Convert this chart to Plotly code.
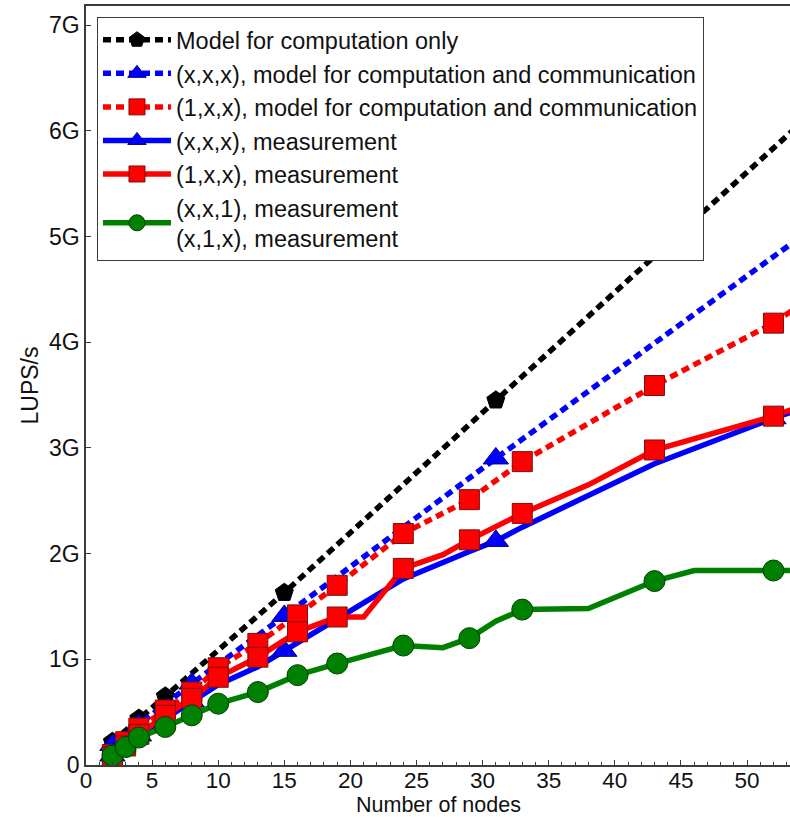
import plotly.graph_objects as go

# Throughput in GLUPS/s versus number of nodes
model_comp_n = [2, 4, 6, 15, 31, 64]
model_comp_v = [0.22, 0.44, 0.65, 1.63, 3.45, 7.20]

model_xxx_n = [2, 4, 8, 15, 31, 64]
model_xxx_v = [0.19, 0.38, 0.77, 1.41, 2.90, 5.90]

model_1xx_n = [2, 3, 4, 6, 8, 10, 13, 16, 19, 24, 29, 33, 43, 52, 64]
model_1xx_v = [0.10, 0.22, 0.35, 0.52, 0.69, 0.92, 1.15, 1.42, 1.70, 2.19, 2.51, 2.87, 3.59, 4.18, 5.20]

meas_xxx_n = [2, 4, 8, 10, 13, 15, 19, 24, 29, 31, 33, 38, 43, 52, 64]
meas_xxx_v = [0.09, 0.28, 0.60, 0.76, 0.93, 1.08, 1.38, 1.76, 2.02, 2.12, 2.25, 2.55, 2.85, 3.28, 3.80]
meas_xxx_marked = [2, 4, 8, 15, 31, 52]

meas_1xx_n = [2, 3, 4, 6, 8, 10, 13, 16, 19, 21, 24, 27, 29, 33, 38, 43, 52, 64]
meas_1xx_v = [0.08, 0.18, 0.29, 0.47, 0.63, 0.83, 1.02, 1.26, 1.40, 1.40, 1.86, 1.99, 2.13, 2.38, 2.65, 2.98, 3.30, 3.85]
meas_1xx_marked = [2, 3, 4, 6, 8, 10, 13, 16, 19, 24, 29, 33, 43, 52]

meas_xx1_n = [2, 3, 4, 6, 8, 10, 13, 16, 19, 24, 27, 29, 31, 33, 38, 43, 46, 52, 64]
meas_xx1_v = [0.09, 0.17, 0.26, 0.36, 0.47, 0.58, 0.69, 0.85, 0.96, 1.13, 1.11, 1.20, 1.36, 1.47, 1.48, 1.74, 1.84, 1.84, 1.84]
meas_xx1_marked = [2, 3, 4, 6, 8, 10, 13, 16, 19, 24, 29, 33, 43, 52]

x_ticks = list(range(0, 55, 5))
y_ticks = list(range(0, 8))
y_tick_text = ["0"] + [f"{v}G" for v in y_ticks[1:]]

FONT = "Liberation Sans, Arial, Helvetica, sans-serif"
AXIS_COLOR = "#3c3c3c"
DASH = "8px,5px"
LW = 5.5
MARGIN = dict(l=86, r=0, t=6, b=53)
HEIGHT = 818


def marker_colors(xs, marked, color):
    # points without a symbol keep the polyline vertex but get a transparent marker
    if marked is None:
        return color
    return [color if x in marked else "rgba(0,0,0,0)" for x in xs]


def series(name, xs, ys, color, edge, symbol, size, dash, marked=None):
    return go.Scatter(
        x=xs, y=ys, name=name, mode="lines+markers",
        line=dict(color=color, width=LW, dash=dash),
        marker=dict(
            symbol=symbol, size=size,
            color=marker_colors(xs, marked, color),
            line=dict(width=1, color=marker_colors(xs, marked, edge)),
        ),
        cliponaxis=False,
    )


fig = go.Figure()
fig.add_trace(series("Model for computation only", model_comp_n, model_comp_v,
                     "#000000", "#000000", "pentagon", 19, DASH))
fig.add_trace(series("(x,x,x), model for computation and communication", model_xxx_n, model_xxx_v,
                     "#0000ff", "#00007a", "triangle-up", 22, DASH))
fig.add_trace(series("(1,x,x), model for computation and communication", model_1xx_n, model_1xx_v,
                     "#ff0000", "#7a1010", "square", 20, DASH))
fig.add_trace(series("(x,x,x), measurement", meas_xxx_n, meas_xxx_v,
                     "#0000ff", "#00007a", "triangle-up", 22, "solid", meas_xxx_marked))
fig.add_trace(series("(1,x,x), measurement", meas_1xx_n, meas_1xx_v,
                     "#ff0000", "#7a1010", "square", 20, "solid", meas_1xx_marked))
fig.add_trace(series("(x,x,1), measurement<br>(x,1,x), measurement", meas_xx1_n, meas_xx1_v,
                     "#008000", "#003d00", "circle", 21, "solid", meas_xx1_marked))

axis_common = dict(
    showline=True, linecolor=AXIS_COLOR, linewidth=1.5,
    ticks="inside", ticklen=5, tickcolor=AXIS_COLOR, tickwidth=1,
    showgrid=False, zeroline=False, automargin=False,
    tickfont=dict(family=FONT, size=23, color="#111111"),
)

plot_h = HEIGHT - MARGIN["t"] - MARGIN["b"]

fig.update_layout(
    width=790, height=HEIGHT,
    margin=MARGIN,
    paper_bgcolor="white", plot_bgcolor="white",
    font=dict(family=FONT, color="#111111"),
    xaxis=dict(
        range=[0, 53.25], tickvals=x_ticks, mirror=True, ticklabelstandoff=-6,
        minor=dict(dtick=1, ticks="inside", ticklen=3, tickcolor=AXIS_COLOR, showgrid=False),
        **{**axis_common, "tickfont": dict(family=FONT, size=22.5, color="#111111")},
    ),
    yaxis=dict(
        range=[0, 7.18], tickvals=y_ticks, ticktext=y_tick_text,
        title=dict(text="LUPS/s", standoff=4,
                   font=dict(family=FONT, size=23, color="#111111")),
        **axis_common,
    ),
    legend=dict(
        x=0.0156, y=0.9855, xanchor="left", yanchor="top",
        bgcolor="white", bordercolor="#3c3c3c", borderwidth=1,
        font=dict(family=FONT, size=23.5, color="#111111"),
        itemwidth=68, valign="middle",
    ),
    showlegend=True,
    # x-axis title sits at the bottom edge of the page, under the tick labels
    annotations=[dict(
        text="Number of nodes", xref="paper", yref="paper",
        x=0.5, y=-MARGIN["b"] / plot_h, xanchor="center", yanchor="bottom",
        showarrow=False, borderpad=0, font=dict(family=FONT, size=21.5, color="#111111"),
    )],
)

fig.write_html("out.html")
